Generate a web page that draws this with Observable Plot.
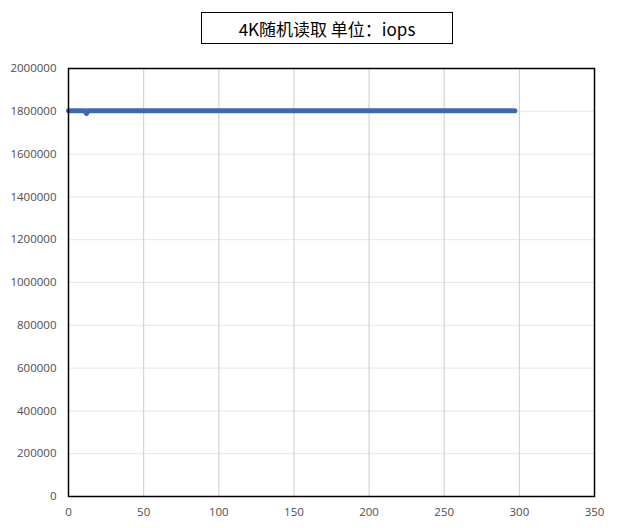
<!DOCTYPE html>
<html>
<head>
<meta charset="utf-8">
<script src="https://cdn.jsdelivr.net/npm/d3@7"></script>
<script src="https://cdn.jsdelivr.net/npm/@observablehq/plot@0.6"></script>
<style>
  body { margin: 0; background: #fff; width: 640px; height: 528px; position: relative; overflow: hidden; }
  #title { position: absolute; left: 201px; top: 12px; width: 250px; height: 30px; border: 1.2px solid #000;
    display: flex; align-items: center; justify-content: center;
    font-family: "Noto Sans CJK SC", "Noto Sans", sans-serif; font-size: 17px; color: #000; }
  #chart { position: absolute; left: 0; top: 50px; }
</style>
</head>
<body>
<div id="title">4K随机读取 单位：iops</div>
<div id="chart"></div>
<script>
const titleText = "4K随机读取 单位：iops";
const xValues = [0, 11, 12, 13, 297];
const iopsValues = [1803000, 1803000, 1790000, 1803000, 1803000];
const xTicks = [0, 50, 100, 150, 200, 250, 300, 350];
const yTicks = [0, 200000, 400000, 600000, 800000, 1000000, 1200000, 1400000, 1600000, 1800000, 2000000];

const data = xValues.map((x, i) => ({x, y: iopsValues[i]}));

const plot = Plot.plot({
  width: 640,
  height: 478,
  marginLeft: 68,
  marginRight: 46,
  marginTop: 18,
  marginBottom: 32,
  style: {fontFamily: "'Open Sans', sans-serif", fontSize: "11.5px", color: "#4d4d4d", background: "#fff"},
  x: {domain: [0, 350], ticks: xTicks, label: null},
  y: {domain: [0, 2000000], ticks: yTicks, label: null},
  marks: [
    Plot.ruleY(yTicks.filter(d => d > 0 && d < 2000000), {stroke: "#e6e6e6", strokeWidth: 1}),
    Plot.ruleX(xTicks.filter(d => d > 0 && d < 350), {stroke: "#d4d4d4", strokeWidth: 1.2}),
    Plot.axisX({ticks: xTicks, tickSize: 0, tickPadding: 11, tickFormat: d => String(d), fill: "#4d4d4d"}),
    Plot.axisY({ticks: yTicks, tickSize: 0, tickPadding: 12, tickFormat: d => String(d), fill: "#4d4d4d"}),
    Plot.line(data, {x: "x", y: "y", stroke: "#3f67b3", strokeWidth: 5, strokeLinecap: "round", strokeLinejoin: "round"}),
    Plot.frame({stroke: "#000", strokeWidth: 1.5})
  ]
});
document.getElementById("chart").appendChild(plot);
</script>
</body>
</html>
